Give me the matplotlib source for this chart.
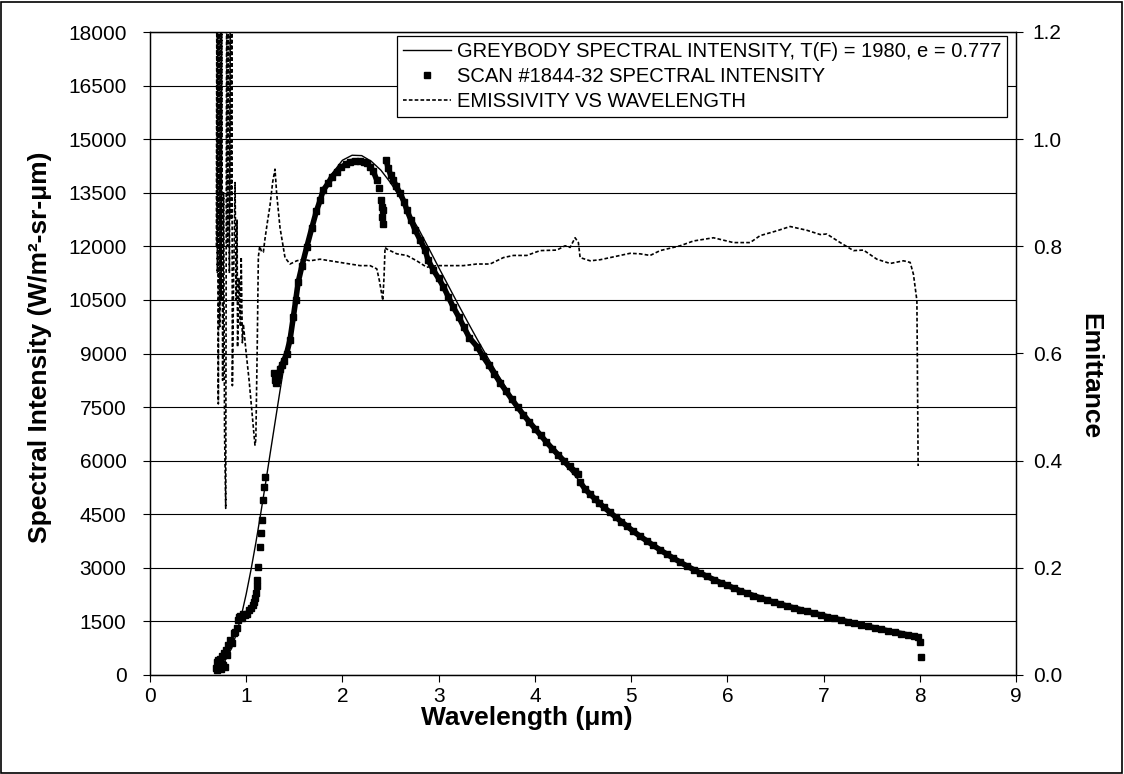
import matplotlib.pyplot as plt
from matplotlib.lines import Line2D
from matplotlib.patches import Rectangle

# Letra tipo Arial
plt.rcParams['font.family'] = ['Liberation Sans', 'DejaVu Sans']

# Curva del cuerpo gris (eje izquierdo)
gris_x = [0.70, 0.75, 0.80, 0.85, 0.90, 0.95, 1.00, 1.05, 1.10, 1.15, 1.20, 1.25, 1.30, 1.35, 1.40, 1.45, 1.50, 1.55, 1.60,
          1.70, 1.80, 1.90, 2.00, 2.10, 2.20, 2.30, 2.40, 2.50, 2.60, 2.70, 2.80, 2.90, 3.00, 3.10, 3.20, 3.30, 3.40, 3.50,
          3.60, 3.70, 3.80, 3.90, 4.00,
          4.25, 4.50, 4.75, 5.00, 5.25, 5.50, 5.75, 6.00, 6.25, 6.50, 6.75, 7.00, 7.25, 7.50, 7.75, 8.00]
gris_y = [150, 280, 490, 760, 1180, 1670, 2270, 2950, 3700, 4510, 5350, 6220, 7080, 7940, 8770, 9550, 10290, 10980, 11620,
          12680, 13490, 14060, 14410, 14550, 14540, 14380, 14130, 13780, 13360, 12910, 12440, 11930, 11410, 10900, 10390,
          9890, 9400, 8930, 8475, 8040, 7620, 7230, 6880,
          6060, 5330, 4640, 4040, 3560, 3140, 2790, 2470, 2210, 1980, 1780, 1600, 1440, 1300, 1160, 1030]

# Barrido #1844-32: puntos sueltos (solo cuadritos)
suelto_x = [0.69, 0.695, 0.70, 0.705, 0.71, 0.72, 0.73, 0.74, 0.745, 0.75, 0.76, 0.77, 0.78, 0.79, 0.80, 0.81, 0.83,
            0.85, 0.87, 0.885, 0.90, 0.91, 0.925, 0.94, 0.955, 0.97, 0.99, 1.01, 1.03, 1.05, 1.07, 1.08, 1.09, 1.10,
            1.11, 1.115, 1.125, 1.14, 1.155, 1.16, 1.17, 1.185, 1.195,
            2.384, 2.398, 2.408, 2.425, 2.408, 2.419, 8.00, 8.01]
suelto_y = [190, 370, 150, 300, 420, 250, 460, 180, 300, 520, 280, 620, 230, 700, 550, 850, 990,
            900, 1180, 1200, 1310, 1550, 1630, 1650, 1600, 1700, 1680, 1720, 1820, 1880, 1960, 2050, 2150, 2290,
            2480, 2660, 3030, 3590, 3975, 4340, 4900, 5270, 5550,
            13620, 13300, 13110, 13015, 12830, 12620, 930, 500]

# Barrido: tramos densos
tramo1_x = [1.29, 1.30, 1.31, 1.32, 1.335, 1.35, 1.37, 1.39, 1.42, 1.455, 1.49, 1.515, 1.54, 1.58, 1.63, 1.68, 1.73,
            1.77, 1.80, 1.85, 1.89, 1.94, 1.99, 2.04, 2.08, 2.13, 2.18, 2.22, 2.26, 2.29, 2.32, 2.357]
tramo1_y = [8460, 8260, 8170, 8250, 8400, 8560, 8680, 8800, 9000, 9380, 10030, 10500, 11000, 11460, 11990, 12500, 12990,
            13300, 13570, 13760, 13950, 14090, 14220, 14300, 14367, 14390, 14390, 14370, 14320, 14230, 14100, 13860]

tramo2_x = [2.453, 2.477, 2.50, 2.53, 2.56, 2.60, 2.64, 2.67, 2.71, 2.755, 2.81, 2.86, 2.89, 2.945, 3.00, 3.05, 3.10,
            3.15, 3.21, 3.26, 3.32, 3.40, 3.46, 3.52, 3.58, 3.64, 3.70, 3.76, 3.82, 3.88, 3.94, 4.00, 4.06, 4.12,
            4.18, 4.24, 4.30, 4.36, 4.42, 4.452]
tramo2_y = [14415, 14180, 14000, 13850, 13680, 13480, 13250, 13015, 12750, 12456, 12170, 11890, 11616, 11336, 11100,
            10869, 10590, 10309, 10020, 9749, 9440, 9190, 8920, 8680, 8430, 8180, 7950, 7720, 7500, 7290, 7090, 6900,
            6710, 6520, 6340, 6170, 6000, 5840, 5700, 5640]

tramo3_x = [4.47, 4.52, 4.57, 4.62, 4.67, 4.72, 4.78, 4.84, 4.90, 4.96, 5.02, 5.09, 5.16, 5.23, 5.30, 5.37, 5.44,
            5.51, 5.58, 5.65, 5.72, 5.79, 5.86, 5.93, 6.00, 6.07, 6.13, 6.20, 6.27, 6.34, 6.41, 6.48, 6.55, 6.62,
            6.69, 6.76, 6.83, 6.90, 6.97, 7.04, 7.11, 7.18, 7.25, 7.32, 7.39, 7.46, 7.53, 7.60, 7.67, 7.74, 7.81,
            7.88, 7.94, 7.98]
tramo3_y = [5400, 5210, 5070, 4940, 4810, 4690, 4555, 4420, 4290, 4160, 4030, 3890, 3760, 3630, 3505, 3385, 3270,
            3160, 3050, 2950, 2850, 2760, 2670, 2585, 2510, 2430, 2360, 2290, 2225, 2160, 2100, 2040, 1985, 1930,
            1880, 1830, 1780, 1730, 1680, 1630, 1590, 1540, 1490, 1445, 1400, 1360, 1320, 1280, 1235, 1195, 1160,
            1120, 1090, 1060]

# Emisividad (eje derecho)
emis_x = [0.690, 0.695, 0.700, 0.705, 0.710, 0.718, 0.725, 0.733, 0.740, 0.745,
          0.755, 0.765, 0.775, 0.787, 0.797, 0.805, 0.815, 0.825, 0.835, 0.845,
          0.850, 0.856, 0.870, 0.884, 0.895, 0.905, 0.910, 0.925, 0.940, 0.948,
          0.960, 0.970, 1.000, 1.030, 1.060, 1.080, 1.091, 1.100, 1.115, 1.126,
          1.140, 1.160, 1.178, 1.195, 1.220, 1.247, 1.275, 1.299, 1.317, 1.351,
          1.403, 1.455, 1.525, 1.594, 1.663, 1.767, 1.871, 1.975, 2.079, 2.183,
          2.287, 2.357, 2.384, 2.408, 2.419, 2.432, 2.443, 2.460, 2.565, 2.668,
          2.772, 2.876, 2.980, 3.119, 3.257, 3.396, 3.534, 3.673, 3.777, 3.916,
          4.054, 4.228, 4.314, 4.366, 4.418, 4.452, 4.470, 4.574, 4.678, 4.782,
          4.886, 4.990, 5.094, 5.198, 5.301, 5.509, 5.648, 5.856, 6.063, 6.237,
          6.341, 6.515, 6.653, 6.826, 6.965, 7.034, 7.173, 7.311, 7.415, 7.554,
          7.692, 7.831, 7.900, 7.934, 7.970, 7.983]
emis_y = [0.80, 1.30, 0.75, 1.30, 0.506, 1.30, 0.65, 1.30, 0.70, 1.30,
          0.55, 0.90, 0.45, 0.311, 1.30, 0.80, 1.30, 0.75, 1.30, 0.85,
          1.30, 0.540, 0.75, 0.919, 0.70, 0.85, 0.612, 0.74, 0.65, 0.78,
          0.62, 0.655, 0.60, 0.55, 0.49, 0.45, 0.429, 0.44, 0.62, 0.78,
          0.80, 0.79, 0.789, 0.814, 0.845, 0.876, 0.92, 0.944, 0.897, 0.835,
          0.779, 0.767, 0.773, 0.776, 0.773, 0.776, 0.773, 0.770, 0.767, 0.764,
          0.764, 0.758, 0.736, 0.711, 0.699, 0.742, 0.798, 0.795, 0.786, 0.783,
          0.773, 0.761, 0.764, 0.764, 0.764, 0.767, 0.767, 0.779, 0.783, 0.783,
          0.792, 0.793, 0.801, 0.798, 0.816, 0.807, 0.779, 0.773, 0.775, 0.779,
          0.783, 0.787, 0.786, 0.783, 0.792, 0.801, 0.810, 0.816, 0.807, 0.807,
          0.820, 0.829, 0.837, 0.830, 0.822, 0.823, 0.807, 0.792, 0.793, 0.776,
          0.768, 0.773, 0.770, 0.748, 0.699, 0.39]

izq_ticks = list(range(0, 18001, 1500))
der_ticks = [0.0, 0.2, 0.4, 0.6, 0.8, 1.0, 1.2]
der_etiquetas = ['0.0', '0.2', '0.4', '0.6', '0.8', '1.0', '1.2']

txt_gris = 'GREYBODY SPECTRAL INTENSITY, T(F) = 1980, e = 0.777'
txt_scan = 'SCAN #1844-32 SPECTRAL INTENSITY'
txt_emis = 'EMISSIVITY VS WAVELENGTH'

fig = plt.figure(figsize=(11.24, 7.74), dpi=100)
ax = fig.add_axes([150 / 1124, 1 - 675 / 774, 866 / 1124, 643 / 774])
ax2 = ax.twinx()

# Rejilla horizontal
ax.set_xlim(0, 9)
ax.set_ylim(0, 18000)
ax.set_xticks(range(10))
ax.set_yticks(izq_ticks)
ax.yaxis.grid(True, color='black', linewidth=0.8)
ax.set_axisbelow(True)

# Cuerpo gris
ax.plot(gris_x, gris_y, color='black', linewidth=1.0)

# Barrido: línea gruesa detrás de los cuadritos para que se vea continuo
for tx, ty in [(tramo1_x, tramo1_y), (tramo2_x, tramo2_y), (tramo3_x, tramo3_y)]:
    ax.plot(tx, ty, color='black', linewidth=4.0, marker='s', markersize=4.0, solid_capstyle='butt')
ax.plot(suelto_x, suelto_y, linestyle='none', color='black', marker='s', markersize=4.0)

# Emisividad
ax2.set_ylim(0, 1.2)
ax2.set_yticks(der_ticks)
ax2.set_yticklabels(der_etiquetas)
ax2.plot(emis_x, emis_y, color='black', linewidth=1.2, linestyle=(0, (2.2, 1.3)))

for a in (ax, ax2):
    a.tick_params(direction='out', length=5, width=0.8, labelsize=15, colors='black')
    for s in a.spines.values():
        s.set_linewidth(0.9)
        s.set_color('black')
ax.tick_params(axis='y', pad=12)
ax.tick_params(axis='x', pad=4)
ax2.tick_params(axis='y', pad=7)

# Títulos de los ejes
fig.text(40 / 1124, 1 - 347 / 774, 'Spectral Intensity (W/m²-sr-μm)', rotation=90, ha='center', va='center',
         fontsize=19, fontweight='bold')
fig.text(1090 / 1124, 1 - 376 / 774, 'Emittance', rotation=-90, ha='center', va='center',
         fontsize=19, fontweight='bold')
fig.text(527 / 1124, 1 - 718 / 774, 'Wavelength (μm)', ha='center', va='center', fontsize=19, fontweight='bold')

# Leyenda
manijas = [Line2D([], [], color='black', linewidth=1.0),
           Line2D([], [], linestyle='none', color='black', marker='s', markersize=4),
           Line2D([], [], color='black', linewidth=1.2, linestyle=(0, (2.2, 1.3)))]
ley = ax2.legend(manijas, [txt_gris, txt_scan, txt_emis], loc='upper right', bbox_to_anchor=(0.99, 0.994),
                 fontsize=14.5, frameon=True, fancybox=False, edgecolor='black', framealpha=1,
                 handlelength=2.4, handletextpad=0.3, borderpad=0.3, labelspacing=0.3, borderaxespad=0)
ley.get_frame().set_linewidth(0.9)

# Marco de toda la figura
fig.patches.append(Rectangle((0.001, 0.001), 0.997, 0.997, transform=fig.transFigure, fill=False,
                             edgecolor='black', linewidth=1.2))

fig.savefig('out.png', dpi=100)
